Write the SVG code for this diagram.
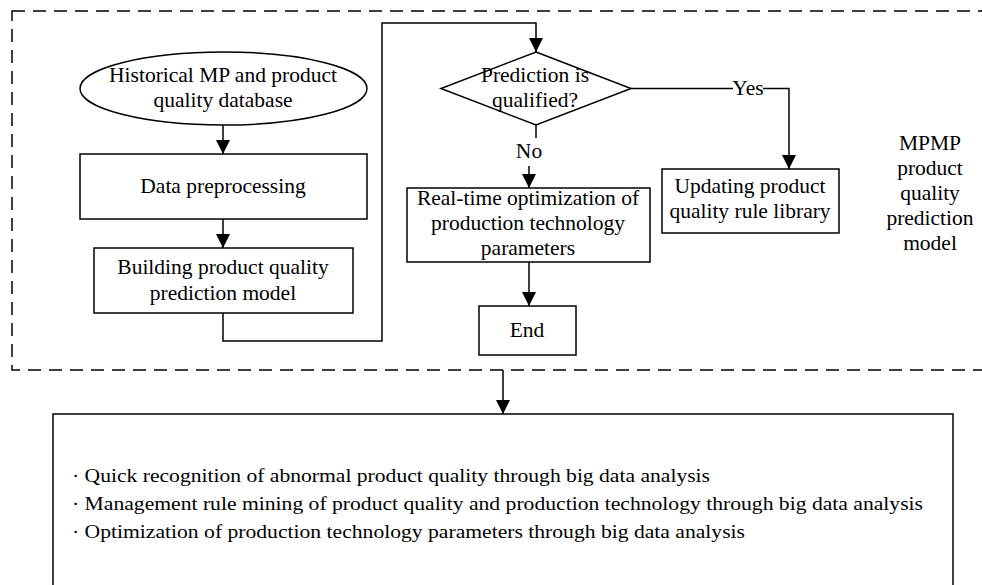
<svg xmlns="http://www.w3.org/2000/svg" width="982" height="585" viewBox="0 0 982 585">
<defs>
<style>
.t{font-family:"Liberation Serif","Times New Roman",serif;font-size:21.5px;fill:#000;text-anchor:middle}
.b{font-family:"Liberation Serif","Times New Roman",serif;font-size:18.5px;fill:#000}
.s{fill:#fff;stroke:#000;stroke-width:1.5}
.c{fill:none;stroke:#000;stroke-width:1.5}
</style>
<marker id="ah" markerUnits="userSpaceOnUse" markerWidth="14" markerHeight="14" refX="14" refY="7" orient="auto">
<path d="M0,0 L14,7 L0,14 Z" fill="#000"/>
</marker>
</defs>
<rect width="982" height="585" fill="#fff"/>
<g id="boundary">
<rect x="12" y="11" width="990" height="359" fill="none" stroke="#000" stroke-width="1.5" stroke-dasharray="13,8"/>
</g>
<g id="connectors">
<path class="c" d="M223,125 V154" marker-end="url(#ah)"/>
<path class="c" d="M223,219 V248" marker-end="url(#ah)"/>
<path class="c" d="M223,313 V341 H382 V23 H536 V52" marker-end="url(#ah)"/>
<path class="c" d="M631,88.5 H733"/>
<path class="c" d="M763,88.5 H789 V169" marker-end="url(#ah)"/>
<path class="c" d="M536,125 V138"/>
<path class="c" d="M529,166 V188" marker-end="url(#ah)"/>
<path class="c" d="M529,262 V306" marker-end="url(#ah)"/>
<path class="c" d="M503,370 V414" marker-end="url(#ah)"/>
<text class="t" x="748" y="95">Yes</text>
<text class="t" x="529" y="158">No</text>
</g>
<g id="database">
<ellipse class="s" cx="223.5" cy="88.5" rx="143.5" ry="36.5"/>
<text class="t" x="223" y="82">Historical MP and product</text>
<text class="t" x="223" y="107">quality database</text>
</g>
<g id="preprocessing">
<rect class="s" x="80" y="154" width="287" height="65"/>
<text class="t" x="223" y="193">Data preprocessing</text>
</g>
<g id="building">
<rect class="s" x="94" y="248" width="259" height="65"/>
<text class="t" x="223" y="274">Building product quality</text>
<text class="t" x="223" y="300">prediction model</text>
</g>
<g id="decision">
<polygon class="s" points="536,52 631,88.5 536,125 441,88.5"/>
<text class="t" x="535" y="82">Prediction is</text>
<text class="t" x="535" y="107">qualified?</text>
</g>
<g id="optimization">
<rect class="s" x="407" y="188" width="243" height="74"/>
<text class="t" x="528" y="205">Real-time optimization of</text>
<text class="t" x="528" y="230">production technology</text>
<text class="t" x="528" y="255">parameters</text>
</g>
<g id="end">
<rect class="s" x="479" y="306" width="97" height="49"/>
<text class="t" x="527" y="337">End</text>
</g>
<g id="updating">
<rect class="s" x="662" y="169" width="177" height="64"/>
<text class="t" x="750" y="193">Updating product</text>
<text class="t" x="750" y="218">quality rule library</text>
</g>
<g id="model-label">
<text class="t" x="930" y="150">MPMP</text>
<text class="t" x="930" y="175">product</text>
<text class="t" x="930" y="200">quality</text>
<text class="t" x="930" y="225">prediction</text>
<text class="t" x="930" y="250">model</text>
</g>
<g id="summary">
<rect class="s" x="53" y="414" width="900" height="200"/>
<text class="b" x="72" y="482" textLength="638" lengthAdjust="spacingAndGlyphs">· Quick recognition of abnormal product quality through big data analysis</text>
<text class="b" x="72" y="510" textLength="851" lengthAdjust="spacingAndGlyphs">· Management rule mining of product quality and production technology through big data analysis</text>
<text class="b" x="72" y="538" textLength="673" lengthAdjust="spacingAndGlyphs">· Optimization of production technology parameters through big data analysis</text>
</g>
</svg>
